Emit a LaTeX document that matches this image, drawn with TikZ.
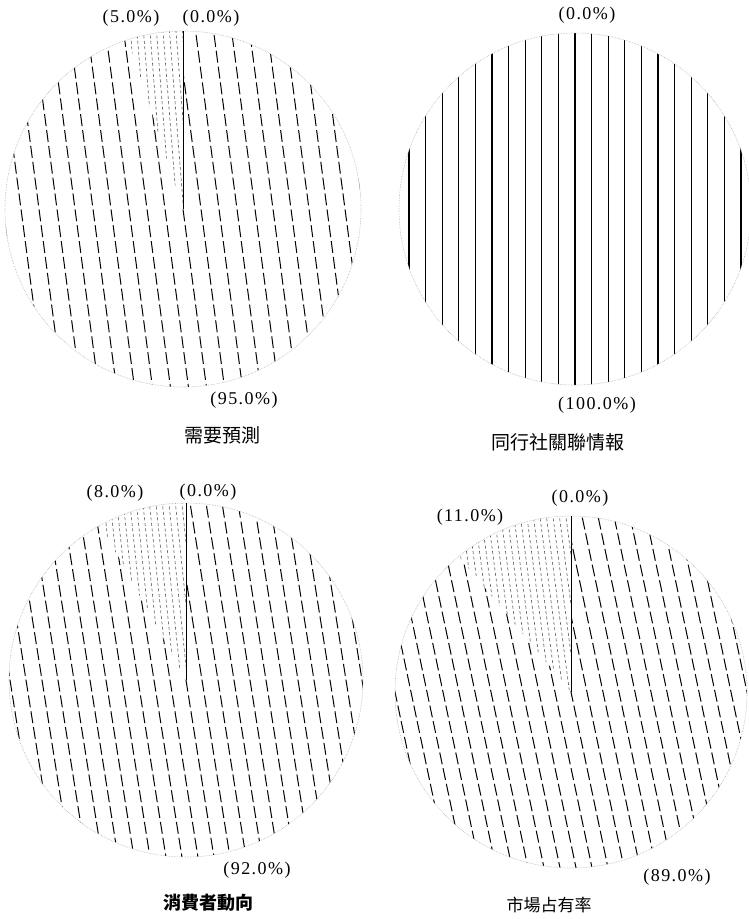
\documentclass[tikz,border=0pt]{standalone}
\usepackage{fontspec}
\usetikzlibrary{calc}
\setmainfont{Liberation Serif}
\newfontfamily\pctf[LetterSpace=8]{Liberation Serif}
\newfontfamily\cjk{Noto Sans CJK TC}
\begin{document}
\begin{tikzpicture}[x=1pt,y=1pt]
\tikzset{
  rim/.style={draw=gray!60, densely dotted, line width=0.6pt},
  hatchmain/.style={line width=1pt, dash pattern=on 12pt off 4pt},
  hatchsolid/.style={line width=1.1pt},
  hatchwedge/.style={line width=0.6pt, gray!70!black, dash pattern=on 3pt off 2.5pt},
  edge/.style={line width=0.6pt},
  pct/.style={font=\pctf\fontsize{18}{20}\selectfont, inner sep=0pt},
  ttl/.style={font=\cjk\fontsize{19}{22}\selectfont, inner sep=0pt}
}
\useasboundingbox (0,0) rectangle (749,-919);

% ---------- Pie 1 ----------
\coordinate (c1) at (183,-209);
\begin{scope}
  \clip (c1) -- ++(108:178) arc[start angle=108, end angle=450, radius=178] -- cycle;
  \foreach \i in {-12,...,12}
    \draw[hatchmain, shift={(c1)}] (\i*18-25,190) -- ++(50,-380);
\end{scope}
\begin{scope}
  \clip (c1) -- ++(90:178) arc[start angle=90, end angle=108, radius=178] -- cycle;
  \foreach \i in {-12,...,4}
    \draw[hatchwedge, shift={(c1)}] (\i*6.5-8,190) -- ++(30,-380);
\end{scope}
\draw[rim] (c1) circle[radius=178];
\coordinate (t1) at ($(c1)+(0,178)$);
\draw[edge] (c1) -- (t1);
\node[pct] (p1a) at (131,-18) {(5.0\%)};
\node[pct] (p1b) at (211,-18) {(0.0\%)};
\node[pct] (p1c) at (244,-400) {(95.0\%)};
\node[ttl] (n1) at (222,-435) {需要預測};

% ---------- Pie 2 ----------
\coordinate (c2) at (575,-209);
\begin{scope}
  \clip (c2) circle[radius=176];
  \foreach \i in {-11,...,11}
    \draw[hatchsolid, shift={(c2)}] (\i*16.6,190) -- ++(0,-380);
\end{scope}
\draw[rim] (c2) circle[radius=176];
\node[pct] (p2a) at (587,-15) {(0.0\%)};
\node[pct] (p2b) at (597,-405) {(100.0\%)};
\node[ttl] (n2) at (558,-442) {同行社關聯情報};

% ---------- Pie 3 ----------
\coordinate (c3) at (186,-680);
\begin{scope}
  \clip (c3) -- ++(118.8:177) arc[start angle=118.8, end angle=450, radius=177] -- cycle;
  \foreach \i in {-13,...,13}
    \draw[hatchmain, shift={(c3)}] (\i*16-30,190) -- ++(60,-380);
\end{scope}
\begin{scope}
  \clip (c3) -- ++(90:177) arc[start angle=90, end angle=118.8, radius=177] -- cycle;
  \foreach \i in {-18,...,4}
    \draw[hatchwedge, shift={(c3)}] (\i*6.5-12,190) -- ++(40,-380);
\end{scope}
\draw[rim] (c3) circle[radius=177];
\coordinate (t3) at ($(c3)+(0,177)$);
\draw[edge] (c3) -- (t3);
\node[pct] (p3a) at (115,-493) {(8.0\%)};
\node[pct] (p3b) at (208,-492) {(0.0\%)};
\node[pct] (p3c) at (257,-870) {(92.0\%)};
\node[ttl, font=\cjk\bfseries\fontsize{18}{20}\selectfont] (n3) at (208,-903) {消費者動向};

% ---------- Pie 4 ----------
\coordinate (c4) at (571,-692);
\begin{scope}
  \clip (c4) -- ++(129.6:176) arc[start angle=129.6, end angle=450, radius=176] -- cycle;
  \foreach \i in {-14,...,14}
    \draw[hatchmain, shift={(c4)}] (\i*16-40,190) -- ++(80,-380);
\end{scope}
\begin{scope}
  \clip (c4) -- ++(90:176) arc[start angle=90, end angle=129.6, radius=176] -- cycle;
  \foreach \i in {-22,...,4}
    \draw[hatchwedge, shift={(c4)}] (\i*6.5-20,190) -- ++(50,-380);
\end{scope}
\draw[rim] (c4) circle[radius=176];
\coordinate (t4) at ($(c4)+(0,176)$);
\draw[edge] (c4) -- (t4);
\node[pct] (p4a) at (470,-517) {(11.0\%)};
\node[pct] (p4b) at (580,-498) {(0.0\%)};
\node[pct] (p4c) at (677,-877) {(89.0\%)};
\node[ttl, font=\cjk\fontsize{17}{20}\selectfont] (n4) at (549,-905) {市場占有率};
\end{tikzpicture}
\end{document}
